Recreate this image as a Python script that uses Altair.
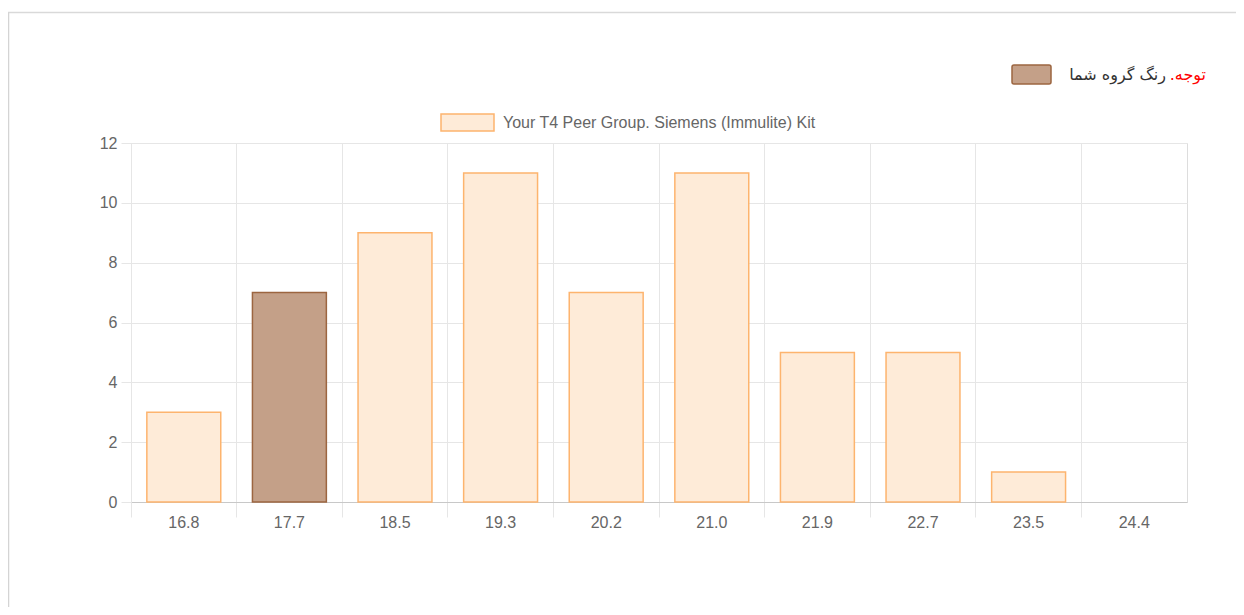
import altair as alt
import pandas as pd

# ---- data ----
categories = ["16.8", "17.7", "18.5", "19.3", "20.2", "21.0", "21.9", "22.7", "23.5", "24.4"]
counts = [3, 7, 9, 11, 7, 11, 5, 5, 1, 0]
your_group_value = "17.7"

peer_label = "Your T4 Peer Group. Siemens (Immulite) Kit"
yours_label = "رنگ گروه شما"
note_title = "توجه.\u200f"
note_text = "رنگ گروه شما"

y_ticks = [0, 2, 4, 6, 8, 10, 12]

# ---- styles ----
peer_fill = "#FEEBD8"
peer_stroke = "#FDB46E"
yours_fill = "#C4A088"
yours_stroke = "#9C6540"
grid_color = "#e6e6e6"
text_color = "#666666"
font = "Liberation Sans"

df = pd.DataFrame({
    "value": categories,
    "count": counts,
    "series": [yours_label if c == your_group_value else peer_label for c in categories],
})

bars = alt.Chart(df).mark_bar(strokeWidth=1.5, width=alt.RelativeBandSize(0.7)).encode(
    x=alt.X("value:N", sort=categories,
            scale=alt.Scale(domain=categories, paddingInner=0, paddingOuter=0),
            axis=alt.Axis(title=None, labelAngle=0, bandPosition=0, grid=True,
                          gridColor=grid_color, tickColor=grid_color, tickSize=15,
                          domainColor="#c8c8c8", domainWidth=1,
                          labelFont=font, labelFontSize=16, labelColor=text_color,
                          labelPadding=-3)),
    y=alt.Y("count:Q", scale=alt.Scale(domain=[0, 12], nice=False),
            axis=alt.Axis(title=None, values=y_ticks, grid=True, gridColor=grid_color,
                          tickColor=grid_color, tickSize=10, domainColor=grid_color,
                          labelFont=font, labelFontSize=16, labelColor=text_color,
                          labelPadding=4)),
    fill=alt.Fill("series:N",
                  scale=alt.Scale(domain=[peer_label, yours_label], range=[peer_fill, yours_fill]),
                  legend=alt.Legend(values=[peer_label], title=None, orient="none",
                                    legendX=309, legendY=-48, padding=0,
                                    symbolType="M-1,-0.32L1,-0.32L1,0.32L-1,0.32Z",
                                    symbolSize=2809, symbolStrokeColor=peer_stroke,
                                    symbolStrokeWidth=1.5, symbolOpacity=1,
                                    labelFont=font, labelFontSize=16, labelColor=text_color,
                                    labelOffset=8, labelLimit=0)),
    stroke=alt.Stroke("series:N",
                      scale=alt.Scale(domain=[peer_label, yours_label], range=[peer_stroke, yours_stroke]),
                      legend=None),
).transform_filter("datum.count > 0")

note_df = pd.DataFrame({"series": [yours_label], "title": [note_title], "text": [note_text]})

note_swatch = alt.Chart(note_df).mark_rect(
    cornerRadius=2, fill=yours_fill, stroke=yours_stroke, strokeWidth=1.5
).encode(x=alt.value(881), x2=alt.value(920), y=alt.value(-78), y2=alt.value(-59))

note_title_txt = alt.Chart(note_df).mark_text(
    align="right", baseline="middle", font="DejaVu Sans", fontSize=16, color="#ff0000"
).encode(x=alt.value(1075), y=alt.value(-68), text="title:N")

note_text_txt = alt.Chart(note_df).mark_text(
    align="right", baseline="middle", font="DejaVu Sans", fontSize=16, color="#333333"
).encode(x=alt.value(1035), y=alt.value(-68), text="text:N")

frame_top = alt.Chart(note_df).mark_rule(color="#d9d9d9", strokeWidth=1.5).encode(
    x=alt.value(-123), x2=alt.value(1110), y=alt.value(-130.5))
frame_left = alt.Chart(note_df).mark_rule(color="#d4d4d4", strokeWidth=1.5).encode(
    x=alt.value(-122.5), y=alt.value(-130.5), y2=alt.value(470))

chart = alt.layer(frame_top, frame_left, bars, note_swatch, note_title_txt, note_text_txt).properties(
    width=1056, height=359,
    padding={"left": 123, "top": 135, "right": 49, "bottom": 105},
    autosize=alt.AutoSizeParams(type="none"),
).configure_view(stroke=None).configure(background="white")

chart.save("out.html", embed_options={"renderer": "svg", "actions": False})
